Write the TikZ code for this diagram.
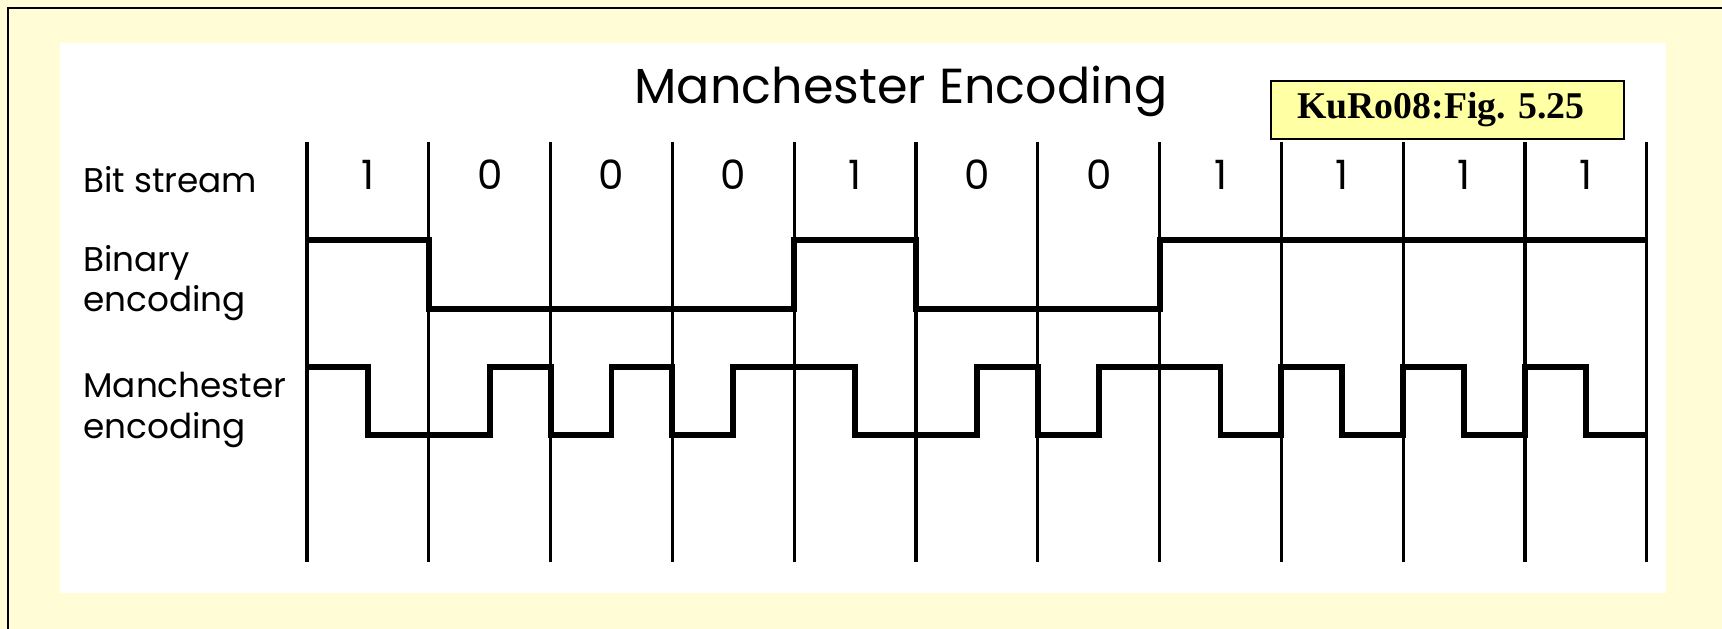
\documentclass[tikz,border=0pt]{standalone}
\usepackage{fontspec}
\setsansfont{Poppins}
\newfontfamily\figfont{Liberation Serif}
\usepackage{xcolor}
\usetikzlibrary{positioning}

\definecolor{paleyellow}{RGB}{255,252,214}
\definecolor{figyellow}{RGB}{255,255,163}

\tikzset{
  gridline/.style={line width=1.8pt},
  wave/.style={line width=3.4pt, line join=miter},
  rowlabel/.style={font=\sffamily\fontsize{19.5}{23}\selectfont, anchor=west, align=left, inner sep=0pt},
  bitlabel/.style={font=\sffamily\fontsize{23}{25}\selectfont, inner sep=0pt},
  figtag/.style={draw, line width=1.2pt, fill=figyellow, minimum width=353*0.2mm, minimum height=58*0.2mm}
}

\begin{document}
\begin{tikzpicture}[x=0.2mm, y=-0.2mm]
  \useasboundingbox (0,0) rectangle (1722,629);
  \fill[paleyellow] (0,0) rectangle (1722,629);
  \draw[line width=1.7pt] (8,700) -- (8,8) -- (1800,8);
  \fill[white] (60,43) rectangle (1666,593);

  % bit cells
  \foreach \k in {0,...,11} {
    \coordinate (b\k) at (307+121.8*\k,142);
    \coordinate (e\k) at (307+121.8*\k,562);
    \draw[gridline] (b\k) -- (e\k);
  }
  \foreach \k in {0,...,10}
    \coordinate (m\k) at (367.9+121.8*\k,142);

  % signal levels
  \coordinate (bhi) at (0,240);
  \coordinate (blo) at (0,309);
  \coordinate (mhi) at (0,367);
  \coordinate (mlo) at (0,435);

  \node[font=\sffamily\fontsize{28}{30}\selectfont] (title) at (901,91) {Manchester Encoding};
  \node[figtag] (tag) at (1447.5,110) {};
  \node[anchor=west, font=\figfont\bfseries\fontsize{21.5}{24}\selectfont] (tagtext) at ([xshift=21*0.2mm]tag.west) {KuRo08:Fig. 5.25};

  \node[rowlabel] (bitstream) at (83,180) {Bit stream};
  \node[rowlabel] (binary) at (83,283) {Binary\\encoding};
  \node[rowlabel] (manchester) at (83,410) {Manchester\\encoding};

  \foreach \b [count=\i from 0] in {1,0,0,0,1,0,0,1,1,1,1}
    \node[bitlabel] (bit\i) at (367.9+121.8*\i,175) {\b};

  % binary encoding
  \draw[wave] (b0 |- bhi) -| (b1 |- blo) -| (b4 |- bhi) -| (b5 |- blo)
    -| (b7 |- bhi) -- (b11 |- bhi);

  % manchester encoding
  \draw[wave] (b0 |- mhi) -| (m0 |- mlo) -| (m1 |- mhi) -| (b2 |- mlo)
    -| (m2 |- mhi) -| (b3 |- mlo) -| (m3 |- mhi) -| (m4 |- mlo)
    -| (m5 |- mhi) -| (b6 |- mlo) -| (m6 |- mhi) -| (m7 |- mlo)
    -| (b8 |- mhi) -| (m8 |- mlo) -| (b9 |- mhi) -| (m9 |- mlo)
    -| (b10 |- mhi) -| (m10 |- mlo) -- (b11 |- mlo);
\end{tikzpicture}
\end{document}
